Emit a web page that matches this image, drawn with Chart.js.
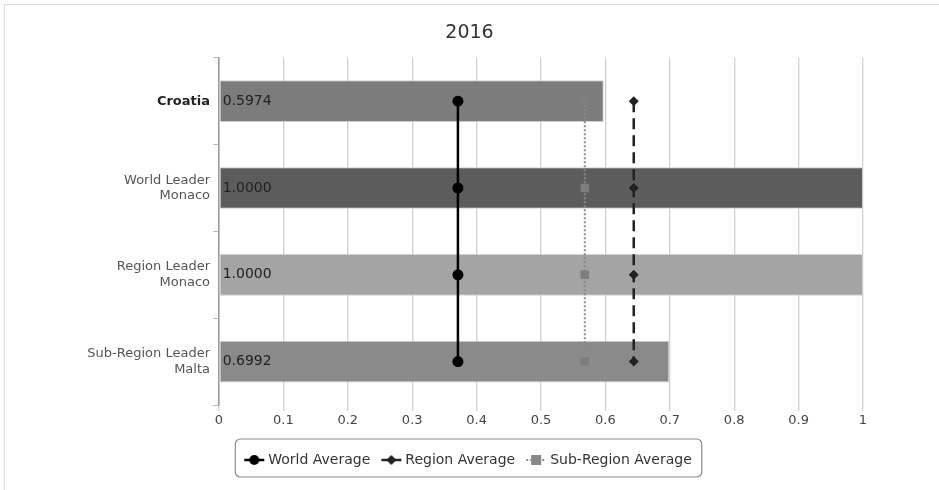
<!DOCTYPE html>
<html>
<head>
<meta charset="utf-8">
<script src="https://cdn.jsdelivr.net/npm/chart.js@4.4.1/dist/chart.umd.min.js"></script>
<style>
  html, body { margin: 0; padding: 0; background: #fff; }
  #wrap { position: relative; width: 939px; height: 490px; }
  #frame { position: absolute; left: 4px; top: 4px; width: 960px; height: 500px; border: 1px solid #dcdcdc; }
  canvas { position: absolute; left: 0; top: 0; }
</style>
</head>
<body>
<div id="wrap">
  <div id="frame"></div>
  <canvas id="chart" width="939" height="490"></canvas>
</div>
<script>
// chart values
const categories = [['Croatia'], ['World Leader', 'Monaco'], ['Region Leader', 'Monaco'], ['Sub-Region Leader', 'Malta']];
const scores = [0.5974, 1.0000, 1.0000, 0.6992];
const barColors = ['#7c7c7c', '#5c5c5c', '#a4a4a4', '#8a8a8a'];
const worldAverage = [0.371, 0.371, 0.371, 0.371];
const regionAverage = [0.644, 0.644, 0.644, 0.644];
const subRegionAverage = [0.568, 0.568, 0.568, 0.568];
const xTicks = [0, 0.1, 0.2, 0.3, 0.4, 0.5, 0.6, 0.7, 0.8, 0.9, 1];

const FONT = '"DejaVu Sans", sans-serif';

// little legend icons: line + marker
function legendIcon(color, dash, marker, lineWidth) {
    const c = document.createElement('canvas');
    c.width = 22; c.height = 12;
    const g = c.getContext('2d');
    g.strokeStyle = color;
    g.lineWidth = lineWidth;
    g.setLineDash(dash);
    g.beginPath(); g.moveTo(1, 6); g.lineTo(21, 6); g.stroke();
    g.setLineDash([]);
    g.fillStyle = color;
    g.beginPath();
    if (marker === 'circle') { g.arc(11, 6, 5, 0, Math.PI * 2); }
    else if (marker === 'diamond') { g.moveTo(11, 1); g.lineTo(16, 6); g.lineTo(11, 11); g.lineTo(6, 6); g.closePath(); }
    else { g.rect(6, 1, 10, 10); }
    g.fill();
    return c;
}

const valueLabels = {
    id: 'valueLabels',
    afterDatasetsDraw(chart) {
        const meta = chart.getDatasetMeta(0);
        const ctx = chart.ctx;
        ctx.save();
        ctx.font = '14px ' + FONT;
        ctx.fillStyle = '#222';
        ctx.textBaseline = 'middle';
        meta.data.forEach((bar, i) => {
            ctx.fillText(scores[i].toFixed(4), bar.base + 3, bar.y);
        });
        ctx.restore();
    },
    afterDraw(chart) {
        const lg = chart.legend;
        if (!lg) return;
        const ctx = chart.ctx;
        const hit = lg.legendHitBoxes;
        if (!hit.length) return;
        const l = hit[0].left - 12, r = hit[hit.length - 1].left + hit[hit.length - 1].width + 10;
        const t = lg.top, b = lg.bottom;
        ctx.save();
        ctx.strokeStyle = '#8a8a8a';
        ctx.lineWidth = 1.2;
        ctx.beginPath();
        ctx.roundRect(l, t, r - l, b - t, 5);
        ctx.stroke();
        ctx.restore();
    }
};

new Chart(document.getElementById('chart'), {
    type: 'bar',
    data: {
        labels: categories,
        datasets: [
            {
                label: 'Score', data: scores, backgroundColor: barColors,
                borderColor: '#d0d0d0', borderWidth: 1, borderSkipped: false,
                categoryPercentage: 1, barPercentage: 0.48, order: 10
            },
            {
                type: 'line', label: 'World Average', data: worldAverage, indexAxis: 'y',
                borderColor: '#000', backgroundColor: '#000', borderWidth: 2.5,
                pointStyle: 'circle', pointRadius: 5.5, pointBorderWidth: 0, order: 1
            },
            {
                type: 'line', label: 'Region Average', data: regionAverage, indexAxis: 'y',
                borderColor: '#222', backgroundColor: '#222', borderWidth: 2.5, borderDash: [11, 6],
                pointStyle: 'rectRot', pointRadius: 5, pointBorderWidth: 0, order: 2
            },
            {
                type: 'line', label: 'Sub-Region Average', data: subRegionAverage, indexAxis: 'y',
                borderColor: '#888', backgroundColor: '#7e7e7e', borderWidth: 2, borderDash: [2, 2],
                pointStyle: 'rect', pointRadius: 6, pointBorderWidth: 0, order: 3
            }
        ]
    },
    options: {
        indexAxis: 'y',
        responsive: false,
        animation: false,
        layout: { padding: { left: 0, right: 0, top: 0, bottom: 13 } },
        scales: {
            x: {
                min: 0, max: 1,
                afterBuildTicks(scale) { scale.ticks = xTicks.map(v => ({ value: v })); },
                grid: { color: '#cfcfcf', lineWidth: 1.3, tickLength: 6, drawTicks: true },
                border: { display: false },
                ticks: { color: '#444', font: { family: FONT, size: 13 }, padding: 2, callback: v => String(v) },
                afterFit(scale) { scale.height = 34; }
            },
            y: {
                grid: { drawOnChartArea: false, offset: true, tickLength: 6, color: '#bbb' },
                border: { display: true, color: '#999', width: 1.5 },
                ticks: {
                    color: ctx => ctx.index === 0 ? '#222' : '#555',
                    font: ctx => ({ family: FONT, size: 13, weight: ctx.index === 0 ? 'bold' : 'normal' }),
                    padding: 3
                },
                afterFit(scale) { scale.width = 219; }
            },
            // empty right-hand gutter so title and legend stay centred on the whole canvas
            gutter: {
                type: 'linear', position: 'right', axis: 'y',
                grid: { display: false }, border: { display: false },
                ticks: { display: false },
                afterFit(scale) { scale.width = 76; }
            }
        },
        plugins: {
            title: {
                display: true, text: '2016', color: '#333',
                font: { family: FONT, size: 19, weight: 'normal' },
                padding: { top: 22, bottom: 13 }
            },
            legend: {
                position: 'bottom',
                labels: {
                    color: '#333',
                    font: { family: FONT, size: 14 },
                    usePointStyle: true,
                    padding: 14,
                    filter: item => item.datasetIndex > 0,
                    generateLabels(chart) {
                        const icons = [
                            legendIcon('#000', [], 'circle', 2.5),
                            legendIcon('#222', [], 'diamond', 2.5),
                            legendIcon('#888', [2, 2], 'square', 2)
                        ];
                        return chart.data.datasets.map((ds, i) => ({
                            text: ds.label, datasetIndex: i,
                            pointStyle: i > 0 ? icons[i - 1] : 'rect',
                            fontColor: '#333', hidden: false, lineWidth: 0
                        }));
                    }
                }
            },
            tooltip: { enabled: false }
        }
    },
    plugins: [valueLabels]
});
</script>
</body>
</html>
